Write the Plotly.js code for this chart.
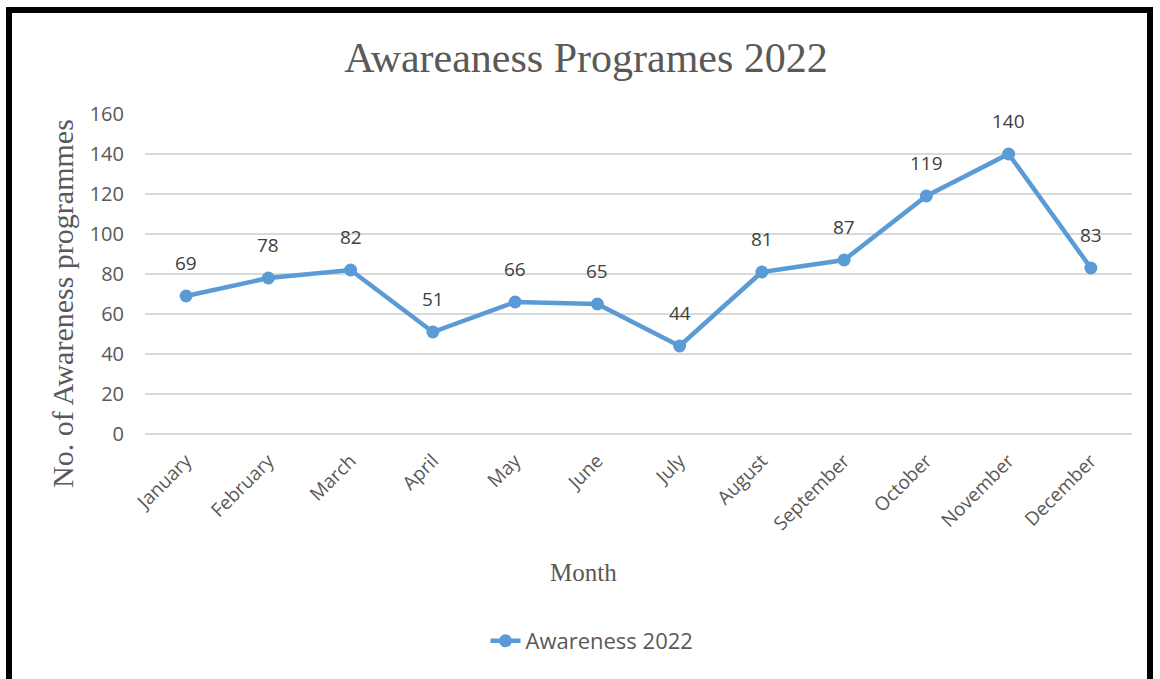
<!DOCTYPE html>
<html><head><meta charset="utf-8">
<script src="https://cdn.plot.ly/plotly-3.0.1.min.js"></script>
<style>
html,body{margin:0;padding:0;background:#fff;}
#wrap{position:relative;width:1160px;height:679px;overflow:hidden;}
#chart{width:1160px;height:679px;}
#frame{position:absolute;left:6px;top:7px;width:1147px;height:700px;border-left:6px solid #000;border-top:6px solid #000;border-right:6px solid #000;box-sizing:border-box;pointer-events:none;}
</style></head>
<body>
<div id="wrap"><div id="chart"></div><div id="frame"></div></div>
<script>
var months = ["January","February","March","April","May","June","July","August","September","October","November","December"];
var awareness2022 = [69,78,82,51,66,65,44,81,87,119,140,83];
var seriesName = "Awareness 2022";
var chartTitle = "Awareaness Programes 2022";
var xTitle = "Month";
var yTitle = "No. of Awareness programmes";

var sans = 'Open Sans, Liberation Sans, sans-serif';
var serif = 'Liberation Serif, Times New Roman, serif';

var trace = {
  x: months, y: awareness2022, name: seriesName, type: 'scatter', mode: 'lines+markers',
  line: {color: '#5B9BD5', width: 4.5},
  marker: {color: '#5B9BD5', size: 13},
  cliponaxis: false
};

var labels = months.map(function(m, i){
  return {x: m, y: awareness2022[i], xref: 'x', yref: 'y', text: String(awareness2022[i]),
    showarrow: false, yshift: 33, yanchor: 'middle', xanchor: 'center',
    font: {family: sans, size: 19, color: '#404040'}};
});
labels.push({text: xTitle, xref: 'paper', yref: 'paper', x: (583-145)/987, xanchor: 'center',
  y: -(572-434)/320, yanchor: 'middle', showarrow: false,
  font: {family: serif, size: 25, color: '#595959'}});
labels.push({text: yTitle, xref: 'paper', yref: 'paper', x: -(145-62)/987, xanchor: 'center',
  y: (434-304)/320, yanchor: 'middle', showarrow: false, textangle: -90,
  font: {family: serif, size: 30, color: '#595959'}});

var layout = {
  width: 1160, height: 679,
  margin: {l: 145, r: 28, t: 114, b: 245},
  paper_bgcolor: '#fff', plot_bgcolor: '#fff',
  title: {text: chartTitle, font: {family: serif, size: 42, color: '#595959'}, xref: 'container', x: 586/1160, xanchor: 'center', yref: 'container', y: 1 - 57/679, yanchor: 'middle'},
  xaxis: {type: 'category', range: [-0.5, 11.5], tickangle: -45, showgrid: false, zeroline: false, showline: false, ticks: '',
    ticklabelstandoff: 11,
    tickfont: {family: sans, size: 19, color: '#595959'}},
  yaxis: {range: [0, 160], dtick: 20, showgrid: true, gridcolor: '#D9D9D9', gridwidth: 1.5, zeroline: true, zerolinecolor: '#D9D9D9', zerolinewidth: 1.5, showline: false, ticks: '',
    ticklabelstandoff: 20,
    tickfont: {family: sans, size: 20, color: '#595959'}},
  annotations: labels,
  showlegend: true,
  legend: {orientation: 'h', xref: 'container', x: 592/1160, xanchor: 'center', yref: 'container', y: 1 - 641/679, yanchor: 'middle',
    font: {family: sans, size: 22, color: '#595959'}}
};
Plotly.newPlot('chart', [trace], layout, {displayModeBar: false, staticPlot: true});
</script>
</body></html>
